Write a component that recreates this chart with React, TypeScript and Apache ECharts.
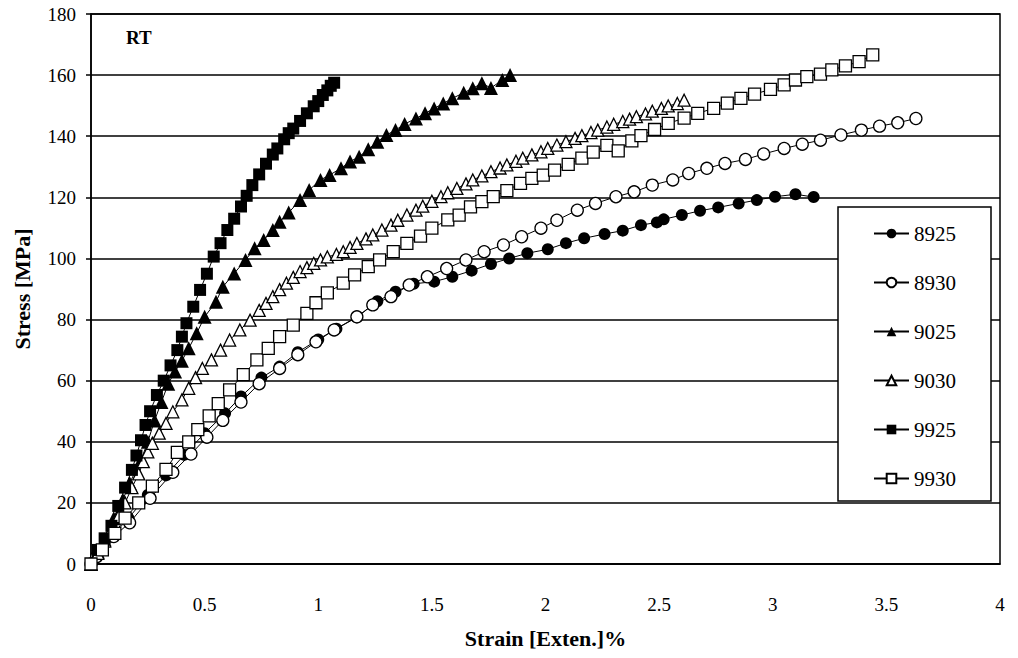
import React, { useEffect, useRef } from "react";
import * as echarts from "echarts";

const seriesNames = ["8925", "8930", "9025", "9030", "9925", "9930"];
const xTicks = [0, 0.5, 1, 1.5, 2, 2.5, 3, 3.5, 4];
const yTicks = [0, 20, 40, 60, 80, 100, 120, 140, 160, 180];

const s8925: number[][] = [
  [0, 0], [0.047, 4.6], [0.09, 8.9], [0.165, 15], [0.25, 22.6], [0.33, 29], [0.41, 35.7],
  [0.5, 42.8], [0.59, 49.3], [0.66, 54.8], [0.75, 61], [0.83, 64.6], [0.91, 69.3], [1.0, 73.5],
  [1.08, 77], [1.17, 80.7], [1.26, 86], [1.34, 89.1], [1.42, 91.7], [1.51, 92.4], [1.59, 94],
  [1.675, 96], [1.76, 98.2], [1.84, 100], [1.92, 101.7], [2.01, 103], [2.09, 105], [2.17, 106.6],
  [2.26, 108], [2.34, 109.1], [2.42, 110.9], [2.49, 111.8], [2.52, 112.8], [2.6, 114.2],
  [2.68, 115.6], [2.76, 116.7], [2.85, 118], [2.93, 119.1], [3.01, 120.2], [3.1, 121], [3.18, 120.1],
];

const s8930: number[][] = [
  [0, 0], [0.025, 2.4], [0.1, 9], [0.17, 13.5], [0.26, 21.5], [0.36, 30], [0.44, 36], [0.51, 41.5],
  [0.58, 47], [0.66, 53], [0.74, 59], [0.83, 64], [0.91, 68.5], [0.99, 72.7], [1.07, 76.6],
  [1.17, 80.9], [1.24, 84.8], [1.32, 87.5], [1.4, 91.3], [1.48, 94], [1.565, 96.7], [1.65, 99.5],
  [1.73, 102.2], [1.815, 104.4], [1.895, 107.1], [1.98, 109.9], [2.05, 112.5], [2.14, 115.8],
  [2.22, 118], [2.31, 120.2], [2.39, 121.8], [2.47, 124], [2.56, 125.7], [2.63, 127.8],
  [2.71, 129.5], [2.79, 131.1], [2.88, 132.4], [2.96, 134.2], [3.05, 136], [3.13, 137.4],
  [3.21, 138.7], [3.3, 140.4], [3.39, 142], [3.47, 143.3], [3.55, 144.4], [3.63, 145.8],
];

const s9025: number[][] = [
  [0, 0], [0.03, 4], [0.06, 8], [0.1, 15], [0.14, 21], [0.17, 26.5], [0.22, 34], [0.25, 40],
  [0.28, 47], [0.31, 53], [0.34, 59], [0.37, 63], [0.4, 66.5], [0.43, 70.6], [0.465, 75.5],
  [0.5, 80.9], [0.55, 85.8], [0.58, 90.7], [0.63, 95.1], [0.68, 99.5], [0.72, 103.3], [0.76, 106],
  [0.8, 109.3], [0.83, 112], [0.87, 115], [0.92, 119.1], [0.96, 122.4], [1.01, 125.7],
  [1.05, 127.3], [1.1, 129.5], [1.14, 131.7], [1.18, 133.3], [1.22, 135.7], [1.26, 138.2],
  [1.3, 140.4], [1.34, 142], [1.38, 144], [1.43, 145.8], [1.47, 147.5], [1.51, 149.1],
  [1.55, 150.7], [1.59, 152.4], [1.64, 154.2], [1.68, 155.7], [1.72, 157.3], [1.76, 155.8],
  [1.81, 158.4], [1.844, 160],
];

const s9030: number[][] = [
  [0, 0], [0.03, 3.5], [0.06, 7.5], [0.09, 11.5], [0.12, 15.5], [0.15, 20], [0.18, 25],
  [0.21, 29.5], [0.23, 33.5], [0.25, 36.7], [0.27, 39.5], [0.3, 42.8], [0.33, 46], [0.36, 49.8],
  [0.4, 53.7], [0.43, 57.5], [0.46, 61], [0.49, 64], [0.53, 66.8], [0.57, 70], [0.61, 73.3],
  [0.655, 76.6], [0.7, 79.8], [0.74, 83], [0.77, 85.3], [0.8, 87.5], [0.83, 89.8], [0.86, 91.9],
  [0.89, 93.8], [0.92, 95.7], [0.95, 97], [0.98, 98.4], [1.01, 99.5], [1.04, 100.5], [1.08, 101.3],
  [1.11, 102.2], [1.14, 103.6], [1.17, 104.9], [1.21, 106.4], [1.24, 107.7], [1.28, 109.3],
  [1.32, 110.9], [1.35, 112.5], [1.39, 114.2], [1.43, 115.8], [1.46, 117.1], [1.5, 118.7],
  [1.54, 120.2], [1.57, 121.5], [1.61, 122.9], [1.65, 124.4], [1.68, 125.7], [1.72, 127],
  [1.76, 128.4], [1.8, 129.6], [1.83, 130.6], [1.87, 131.8], [1.9, 132.8], [1.94, 133.9],
  [1.98, 134.9], [2.01, 136], [2.05, 137.1], [2.09, 138.2], [2.13, 139.3], [2.16, 140.2],
  [2.2, 141.2], [2.23, 142], [2.27, 143], [2.3, 143.9], [2.34, 144.8], [2.37, 145.6], [2.4, 146.4],
  [2.44, 147.3], [2.47, 148.2], [2.51, 149.1], [2.54, 149.9], [2.58, 150.7], [2.61, 151.8],
];

const s9925: number[][] = [
  [0, 0], [0.03, 4.6], [0.06, 8.4], [0.09, 12.5], [0.12, 19], [0.15, 25], [0.18, 30.8],
  [0.2, 35.5], [0.22, 40.5], [0.24, 45.5], [0.26, 50], [0.29, 55.3], [0.32, 60], [0.35, 65],
  [0.38, 70], [0.4, 74.4], [0.42, 78.8], [0.45, 84.2], [0.48, 89.7], [0.51, 95], [0.54, 100.6],
  [0.57, 105], [0.6, 109.3], [0.63, 113], [0.66, 117], [0.685, 120.5], [0.71, 124], [0.74, 127.5],
  [0.77, 131], [0.8, 134], [0.82, 136], [0.85, 139], [0.87, 141], [0.89, 142.5], [0.92, 145],
  [0.95, 147.5], [0.98, 149.8], [1.0, 151.5], [1.02, 153.5], [1.04, 155], [1.055, 156.5],
  [1.07, 157.5],
];

const s9930: number[][] = [
  [0, 0], [0.05, 4.6], [0.105, 10], [0.15, 15], [0.21, 20], [0.27, 25.5], [0.33, 31], [0.38, 36.5],
  [0.43, 40], [0.47, 44], [0.52, 48.5], [0.56, 52.5], [0.61, 57], [0.67, 62], [0.73, 66.8],
  [0.78, 70.6], [0.83, 74.4], [0.89, 78.2], [0.95, 82], [0.99, 85.5], [1.04, 88.7], [1.11, 91.9],
  [1.16, 94.6], [1.22, 97.3], [1.27, 99.5], [1.33, 102.2], [1.39, 104.9], [1.45, 107.3],
  [1.5, 109.9], [1.57, 112.6], [1.62, 114.2], [1.67, 116.9], [1.72, 118.6], [1.77, 120.2],
  [1.83, 122.2], [1.89, 124.6], [1.94, 126.2], [1.99, 127.3], [2.04, 128.9], [2.1, 130.8],
  [2.16, 132.8], [2.21, 134.8], [2.27, 137], [2.32, 135.2], [2.38, 138.5], [2.42, 140.2],
  [2.48, 142.2], [2.54, 144.2], [2.61, 145.9], [2.67, 147.5], [2.74, 149.1], [2.8, 150.8],
  [2.86, 152.4], [2.92, 153.8], [2.99, 155.3], [3.05, 156.8], [3.1, 158.4], [3.15, 159.5],
  [3.21, 160.3], [3.26, 161.7], [3.32, 163], [3.38, 164.4], [3.44, 166.6],
];

const FONT = "Liberation Serif";

export default function App() {
  const ref = useRef<HTMLDivElement>(null);
  useEffect(() => {
    if (!ref.current) return;
    const chart = echarts.init(ref.current, undefined, { renderer: "svg" });
    const mk = (name: string, data: number[][], symbol: string, filled: boolean, size: number) => ({
      name,
      type: "line",
      data,
      symbol,
      symbolSize: size,
      showAllSymbol: true,
      lineStyle: { color: "#000", width: 1 },
      itemStyle: filled
        ? { color: "#000", borderColor: "#000", borderWidth: 0 }
        : { color: "#fff", borderColor: "#000", borderWidth: 1.3 },
      emphasis: { disabled: true },
    });
    chart.setOption({
      animation: false,
      backgroundColor: "#fff",
      textStyle: { fontFamily: FONT, color: "#000" },
      grid: {
        left: 91, right: 18, top: 14, bottom: 94,
        show: true, borderColor: "#000", borderWidth: 1.5, backgroundColor: "transparent",
      },
      xAxis: {
        type: "value", min: xTicks[0], max: xTicks[xTicks.length - 1], interval: 0.5,
        name: "Strain [Exten.]%", nameLocation: "middle", nameGap: 63,
        nameTextStyle: { fontFamily: FONT, fontWeight: "bold", fontSize: 22, color: "#000" },
        axisLine: { show: true, lineStyle: { color: "#000", width: 1.5 } },
        axisTick: { show: false },
        splitLine: { show: false },
        axisLabel: { fontFamily: FONT, fontSize: 19, color: "#000", margin: 31 },
      },
      yAxis: {
        type: "value", min: yTicks[0], max: yTicks[yTicks.length - 1], interval: 20,
        name: "Stress [MPa]", nameLocation: "middle", nameGap: 58,
        nameTextStyle: { fontFamily: FONT, fontWeight: "bold", fontSize: 22, color: "#000" },
        axisLine: { show: true, lineStyle: { color: "#000", width: 1.5 } },
        axisTick: { show: true, inside: false, length: 5, lineStyle: { color: "#000", width: 1.5 } },
        splitLine: { show: true, lineStyle: { color: "#000", width: 1.5 } },
        axisLabel: { fontFamily: FONT, fontSize: 19, color: "#000", margin: 15 },
      },
      legend: {
        orient: "vertical",
        left: 838, top: 207,
        data: seriesNames,
        itemWidth: 35, itemHeight: 12, itemGap: 28,
        padding: [16, 35, 12, 35],
        backgroundColor: "#fff",
        borderColor: "#000", borderWidth: 1.5,
        textStyle: { fontFamily: FONT, fontSize: 21, color: "#000", lineHeight: 20 },
        selectedMode: false,
      },
      graphic: [
        {
          type: "text", left: 126, top: 28,
          style: { text: "RT", fontFamily: FONT, fontWeight: "bold", fontSize: 19, fill: "#000" },
        },
      ],
      series: [
        mk(seriesNames[0], s8925, "circle", true, 12),
        mk(seriesNames[1], s8930, "circle", false, 12),
        mk(seriesNames[2], s9025, "triangle", true, 14),
        mk(seriesNames[3], s9030, "triangle", false, 12),
        mk(seriesNames[4], s9925, "rect", true, 12),
        mk(seriesNames[5], s9930, "rect", false, 12),
      ],
    });
    return () => chart.dispose();
  }, []);
  return (
    <div
      ref={ref}
      style={{ position: "fixed", left: 0, top: 0, width: 1018, height: 658, background: "#fff" }}
    />
  );
}
